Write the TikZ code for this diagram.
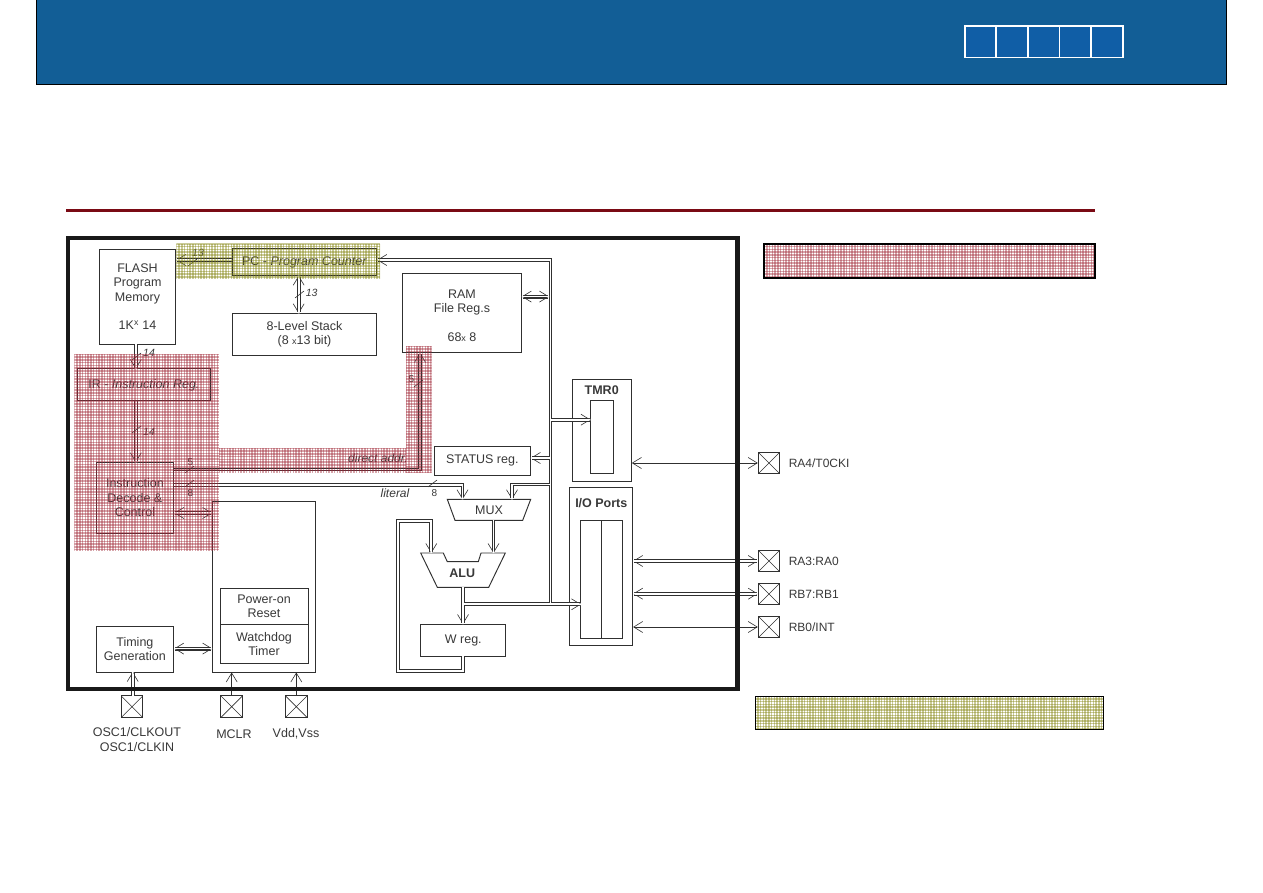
\documentclass[tikz,border=0pt]{standalone}
\usepackage{fontspec}
\setmainfont{Liberation Sans}
\usetikzlibrary{arrows.meta}

\definecolor{wire}{HTML}{303030}
\definecolor{banner}{HTML}{125E96}
\definecolor{cellblue}{HTML}{105EA6}
\definecolor{rulered}{HTML}{7A0A14}
\definecolor{meshred}{HTML}{A02838}
\definecolor{meshgold}{HTML}{82840F}

% see-through woven mesh over a rectangle: x1,y1,x2,y2,colour
\newcommand{\meshrect}[5]{
    \begin{scope}
    \clip (#1,#2) rectangle (#3,#4);
    \pgfmathsetmacro{\nextx}{#1+2.75}
    \pgfmathsetmacro{\nexty}{#2+2.75}
    \foreach \mx in {#1,\nextx,...,#3}
        \draw[#5,line width=1.5pt,draw opacity=.42] (\mx,#2) -- (\mx,#4);
    \foreach \my in {#2,\nexty,...,#4}
        \draw[#5,line width=1.5pt,draw opacity=.42] (#1,\my) -- (#3,\my);
    \end{scope}
}

\tikzset{bartip/.tip={Straight Barb[length=9pt,width=11pt,line width=.6pt]}}

\begin{document}
\begin{tikzpicture}[x=1pt,y=-1pt,>=bartip,node distance=33pt,
        font=\fontsize{12.5}{14.5}\selectfont,text=black!78,
        tipon/.style={>=bartip},tipoff/.style={>={Butt Cap}},
        box/.style={draw=wire,line width=.95pt,inner sep=0pt,align=center},
        title text/.style={font=\fontsize{12.5}{14.5}\selectfont\bfseries},
        thin wire/.style={draw=wire,line width=.9pt},
        tick/.style={draw=wire,line width=.6pt},
        width mark/.style={font=\fontsize{10.5}{12}\selectfont\itshape},
        plain mark/.style={font=\fontsize{10}{12}\selectfont},
        pad label/.style={label distance=5pt,font=\fontsize{12}{14}\selectfont},
        pad/.style={draw=wire,line width=.95pt,minimum size=21.5pt,inner sep=0pt,
            path picture={\draw[wire,line width=.6pt]
                (path picture bounding box.north west) -- (path picture bounding box.south east)
                (path picture bounding box.north east) -- (path picture bounding box.south west);}},
        cell/.style={draw=white,line width=1.8pt,fill=cellblue,minimum size=31.6pt,inner sep=0pt},
        legend/.style={draw=black,line width=1.2pt}]
        \useasboundingbox (0,0) rectangle (1263,893);

        % page furniture
        \node[draw=black,line width=1pt,fill=banner,minimum width=1190pt,minimum height=85pt,inner sep=0pt] (banner) at (631.5,42) {};
        \node[cell] (c1) at (980.5,41.8) {};
        \node[cell,node distance=31.6pt] (c2) [right of=c1] {};
        \node[cell,node distance=31.6pt] (c3) [right of=c2] {};
        \node[cell,node distance=31.6pt] (c4) [right of=c3] {};
        \node[cell,node distance=31.6pt] (c5) [right of=c4] {};
        \coordinate (rulea) at (66,211);
        \coordinate (ruleb) at (1095,211);
        \draw[rulered,line width=3pt] (rulea) -- (ruleb);

        % program side
        \node[box,minimum width=76.4pt,minimum height=95pt] (flash) at (137.5,296.5) {FLASH\\Program\\Memory\\[14pt]1K\textsuperscript{x} 14};
        \node[box,minimum width=144.4pt,minimum height=26.7pt] (pc) at (304.5,262.3) {PC - \textit{Program Counter}};
        \node[box,minimum width=144.4pt,minimum height=42pt] (stack) at (304.5,334.3) {8-Level Stack\\(8 {\small x}13 bit)};
        \node[box,minimum width=133.7pt,minimum height=31.7pt] (ir) at (143.9,384.8) {IR - \textit{Instruction Reg.}};
        \node[box,minimum width=77.7pt,minimum height=71pt] (decode) at (134.9,497.8) {Instruction\\Decode \&\\Control};
        \node[box,minimum width=77.7pt,minimum height=45.7pt] (timing) at (134.9,649.2) {Timing\\Generation};

        % reset block
        \node[box,minimum width=102.6pt,minimum height=171pt] (reset) at (264,586.5) {};
        \node[box,minimum width=88pt,minimum height=36pt] (por) at (264,606.3) {Power-on\\Reset};
        \node[box,minimum width=88pt,minimum height=39pt] (wdt) at (264,643.8) {Watchdog\\Timer};

        % data side
        \node[box,minimum width=118.6pt,minimum height=79pt] (ram) at (462,312.8) {\\RAM\\File Reg.s\\[14pt]68{\small x} 8};
        \node[box,minimum width=96pt,minimum height=29pt] (status) at (482.3,460.5) {STATUS reg.};
        \node[box,minimum width=85.3pt,minimum height=32pt] (wreg) at (463.3,640) {W reg.};
        \draw[wire,line width=.95pt] (447.3,499.3) -- (530.7,499.3) -- (522.7,520.3) -- (455,520.3) -- cycle;
        \draw[wire,line width=.95pt] (420.7,553) -- (443.3,553) -- (447.3,561.7) -- (478.3,561.7) -- (481,553) -- (505.3,553) -- (488.7,587.3) -- (437.3,587.3) -- cycle;
        \node (mux) at (489,510) {MUX};
        \node[title text] (alu) at (462.3,573.7) {ALU};

        % timer and ports
        \node[box,minimum width=59.3pt,minimum height=102pt] (tmr) at (601.7,430.3) {};
        \node[box,minimum width=22.7pt,minimum height=73.3pt] (tmrin) at (602.3,437.3) {};
        \node[title text] (tmrlab) at (601.7,390) {TMR0};
        \node[box,minimum width=62.7pt,minimum height=158pt] (io) at (601.3,566.3) {};
        \node[box,minimum width=20.9pt,minimum height=118pt] (ioa) at (590.7,579.3) {};
        \node[box,minimum width=21.1pt,minimum height=118pt] (iob) at (611.7,579.3) {};
        \node[title text] (iolab) at (601.3,503.3) {I/O Ports};

        % pads
        \node[pad,label={[pad label]right:{RA4/T0CKI}}] (ra4) at (769,463) {};
        \node[pad,label={[pad label]right:{RA3:RA0}}] (ra3) at (769,561) {};
        \node[pad,label={[pad label]right:{RB7:RB1}}] (rb7) [below of=ra3] {};
        \node[pad,label={[pad label]right:{RB0/INT}}] (rb0) [below of=rb7] {};
        \node[pad] (osc) at (132,706.7) {};
        \node[pad] (mclr) at (231.7,706.7) {};
        \node[pad] (vdd) at (296.3,706.7) {};
        \node[align=center] (osclab) at (137,739.5) {OSC1/CLKOUT\\OSC1/CLKIN};
        \node (mclrlab) at (234,734) {MCLR};
        \node (vddlab) at (296,734) {Vdd,Vss};

        % where the buses meet
        \coordinate (toprun) at (550.5,260);
        \coordinate (botrun) at (550.5,604.3);
        \coordinate (iotap) at (581,604.3);
        \coordinate (ramtap) at (549,296.6);
        \coordinate (statustap) at (550.5,458);
        \coordinate (tmrtap) at (550.5,419.7);
        \coordinate (muxa) at (462.5,499.3);
        \coordinate (muxb) at (512,499.3);
        \coordinate (muxo) at (493.5,520.3);
        \coordinate (alua) at (431.3,553);
        \coordinate (alub) at (493.5,553);
        \coordinate (aluo) at (463,587.3);
        \coordinate (wrega) at (463,624);
        \coordinate (wrego) at (463,656);

        % every bus twice: dark body, then the white core on top
        \foreach \lw/\col/\tp in {3.9pt/wire/tipon,1.7pt/white/tipoff}{
            \tikzset{bus/.style={draw=\col,line width=\lw,\tp}}
            \draw[bus,<-] (pc.east |- toprun) -- (toprun) -- (botrun);
            \draw[bus,->] (pc.west |- toprun) -- (flash.east |- toprun);
            \draw[bus,<->] (298.7,275.7) -- (298.7,313.3);
            \draw[bus,<->] (ram.east |- ramtap) -- (ramtap);
            \draw[bus,->] (statustap) -- (status.east |- statustap);
            \draw[bus,->] (tmrtap) -- (tmrin.west |- tmrtap);
            \draw[bus,->] (135.8,344) -- (135.8,369);
            \draw[bus,->] (135.8,400.7) -- (135.8,462.3);
            \draw[bus,->] (decode.east |- 0,469.5) -- (420,469.5) -- (ram.south -| 420,0);
            \draw[bus,->] (decode.east |- 0,484.7) -- (462.5,484.7) -- (muxa);
            \draw[bus,->] (botrun |- 0,484.5) -- (512,484.5) -- (muxb);
            \draw[bus,<->] (decode.east |- 0,513) -- (reset.west |- 0,513);
            \draw[bus,<->] (timing.east |- 0,648.6) -- (reset.west |- 0,648.6);
            \draw[bus,->] (muxo) -- (alub);
            \draw[bus,->] (aluo) -- (wrega);
            \draw[bus,->] (wrego) -- (463,670.7) -- (397.8,670.7) -- (397.8,520.7) -- (431.3,520.7) -- (alua);
            \draw[bus,->] (463,604.3) -- (iotap);
            \draw[bus,->] (132.7,696) -- (132.7,672);
            \draw[bus,<->] (io.east |- ra3) -- (ra3.west);
            \draw[bus,<->] (io.east |- 0,593.7) -- (rb7.west |- 0,593.7);
        }
        \draw[thin wire,<->] (tmr.east |- ra4) -- (ra4.west);
        \draw[thin wire,<->] (io.east |- rb0) -- (rb0.west);
        \draw[thin wire,->] (mclr.north) -- (mclr |- reset.south);
        \draw[thin wire,->] (vdd.north) -- (vdd |- reset.south);

        % bus width marks
        \foreach \tx/\ty in {188/266,132/360,132/433,295/298,185/473,185/487,428/487,414/387}
            \draw[tick] (\tx,\ty) -- ++(9,-7);
        \node[width mark] (w13a) at (198,253.3) {13};
        \node[width mark] (w13b) at (311.7,292.7) {13};
        \node[width mark] (w14a) at (149,353.3) {14};
        \node[width mark] (w14b) at (149,432.3) {14};
        \node[plain mark] (w5a) at (190.3,461.7) {5};
        \node[plain mark] (w8a) at (190.3,492.7) {8};
        \node[plain mark] (w8b) at (434.3,492.7) {8};
        \node[plain mark] (w5b) at (411.5,379.3) {5};
        \node[font=\fontsize{12}{14}\selectfont\itshape] (direct) at (378,458) {direct addr.};
        \node[font=\fontsize{12}{14}\selectfont\itshape] (literal) at (395,493) {literal};

        % outer frame
        \draw[black!90,line width=4.3pt] (67.8,237.8) rectangle (737.5,688.8);

        % meshed highlights lie over the drawing
        \meshrect{74.3}{354.3}{219}{550.7}{meshred}
        \meshrect{219}{448.3}{406}{472.7}{meshred}
        \meshrect{406}{346}{431.7}{473.3}{meshred}
        \meshrect{176.3}{244}{380}{278.7}{meshgold}
        \meshrect{764}{244}{1095}{278}{meshred}
        \draw[legend] (764,244) rectangle (1095,278);
        \meshrect{755}{696}{1103}{729}{meshgold}
        \draw[legend,line width=.8pt] (755,696) rectangle (1103,729);
        \end{tikzpicture}
\end{document}
